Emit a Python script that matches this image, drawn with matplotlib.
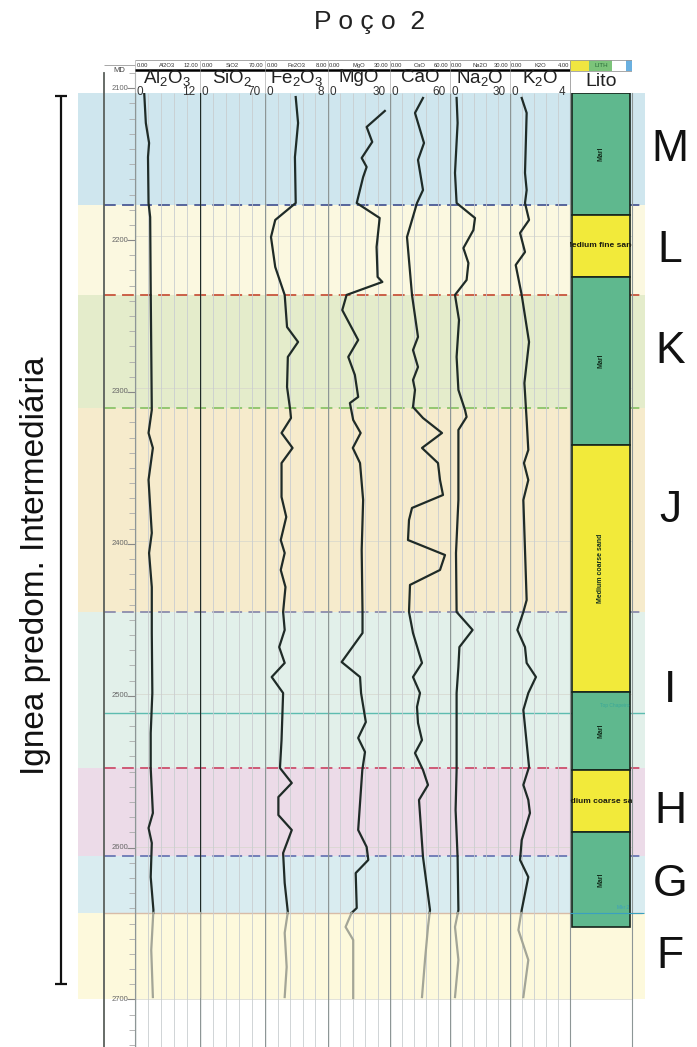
import numpy as np
import matplotlib.pyplot as plt
from matplotlib.patches import Rectangle

plt.rcParams['font.family'] = ['Liberation Sans', 'DejaVu Sans']
plt.rcParams['mathtext.fontset'] = 'custom'
plt.rcParams['mathtext.rm'] = 'Liberation Sans'
plt.rcParams['mathtext.it'] = 'Liberation Sans'

# zones (tops in m MD)
zone_names = ['M', 'L', 'K', 'J', 'I', 'H', 'G', 'F']
zone_tops = [2106.5, 2180.0, 2239.0, 2313.0, 2446.5, 2548.6, 2606.0, 2643.5]
zone_base = 2700.0
zone_colors = ['#cfe6ee', '#fbf8e0', '#e4eccb', '#f6ebcc', '#e2f0ea', '#ecdbe8', '#d9ecf0', '#fdf9dc']
boundary_colors = ['#4b5a95', '#c8553d', '#8cc46a', '#8c8cac', '#cc4f6c', '#6b78b4']
marker_depth = 2512.6
marker_name = 'Top Chapeiro'

# lithology column
lith_tops = [2106.5, 2186.4, 2227.0, 2337.0, 2498.8, 2550.0, 2590.5]
lith_bases = [2186.4, 2227.0, 2337.0, 2498.8, 2550.0, 2590.5, 2652.7]
lith_names = ['Marl', 'Medium fine sand', 'Marl', 'Medium coarse sand', 'Marl',
              'Medium coarse sand', 'Marl']
lith_colors = {'Marl': '#5fb88e', 'Medium fine sand': '#f2ea3a', 'Medium coarse sand': '#f2ea3a'}

# geochemical logs
al2o3_depth = [2106.5, 2126.2, 2139.3, 2148.5, 2178.6, 2187.8, 2235.6, 2314.1, 2329.2, 2339.0,
               2359.9, 2394.7, 2407.8, 2430.1, 2460.2, 2499.5, 2525.7, 2548.6, 2578.1, 2587.9,
               2597.7, 2620.0, 2641.6, 2667.8, 2698.6]
al2o3 = [1.7, 2.0, 2.6, 2.4, 2.5, 2.8, 2.9, 3.1, 2.5, 3.3,
         2.5, 3.1, 2.6, 3.1, 3.1, 3.2, 2.9, 2.9, 3.3, 2.5,
         3.1, 2.9, 3.4, 3.0, 3.3]

sio2_depth = [2106.5, 2300.0, 2500.0, 2698.6]
sio2 = [0.4, 0.4, 0.4, 0.4]

fe2o3_depth = [2109.2, 2126.2, 2148.5, 2178.6, 2189.7, 2200.9, 2220.5, 2238.8, 2259.8, 2269.6,
               2279.4, 2299.1, 2314.1, 2319.4, 2329.2, 2339.0, 2348.9, 2371.1, 2384.2, 2399.3,
               2407.8, 2418.9, 2430.1, 2446.4, 2458.2, 2469.4, 2479.8, 2489.0, 2499.5, 2530.3,
               2548.6, 2558.4, 2567.6, 2579.4, 2589.2, 2604.3, 2623.9, 2642.9, 2656.6, 2678.9,
               2698.6]
fe2o3 = [3.9, 4.2, 3.8, 3.9, 1.3, 0.76, 1.3, 2.5, 2.8, 4.2,
         2.9, 2.8, 3.2, 3.3, 2.1, 3.5, 2.1, 2.1, 2.7, 2.0,
         2.5, 2.0, 2.6, 2.3, 2.5, 1.8, 2.5, 0.85, 2.3, 2.1,
         1.9, 3.4, 1.7, 1.7, 3.4, 2.3, 2.5, 2.9, 2.5, 2.75,
         2.5]

mgo_depth = [2118.3, 2128.8, 2138.6, 2149.1, 2155.0, 2161.6, 2178.6, 2188.4, 2207.4, 2227.0,
             2230.3, 2238.8, 2248.7, 2268.3, 2279.4, 2291.2, 2305.6, 2309.6, 2320.7, 2329.2,
             2339.0, 2348.9, 2373.1, 2405.8, 2446.4, 2460.2, 2479.2, 2489.0, 2499.5, 2518.5,
             2528.9, 2538.1, 2549.9, 2589.2, 2600.3, 2608.8, 2617.4, 2640.3, 2643.5, 2652.7,
             2661.2, 2699.2]
mgo = [27.5, 18.7, 21.4, 16.3, 18.7, 17.0, 13.9, 25.0, 23.5, 24.0,
       26.3, 9.0, 6.9, 14.6, 9.8, 13.0, 14.6, 10.6, 12.2, 15.8,
       12.0, 15.5, 17.0, 16.3, 16.7, 16.7, 6.6, 15.5, 16.0, 18.3,
       14.6, 17.9, 16.6, 14.6, 18.7, 19.5, 13.4, 13.9, 11.4, 8.5,
       12.2, 12.2]

cao_depth = [2109.8, 2119.6, 2139.3, 2150.4, 2170.1, 2178.6, 2200.9, 2238.8, 2266.3, 2274.9,
             2286.0, 2294.5, 2301.0, 2312.2, 2319.4, 2329.2, 2339.0, 2348.9, 2360.0, 2369.8,
             2378.3, 2386.2, 2399.3, 2409.1, 2418.9, 2428.7, 2446.4, 2460.2, 2479.8, 2489.0,
             2499.5, 2508.6, 2519.1, 2530.3, 2538.8, 2549.9, 2559.7, 2569.5, 2606.9, 2641.6,
             2652.7, 2674.3, 2698.6]
cao = [33, 25, 34, 28, 33, 27, 17, 22, 28, 23,
       28, 23, 25, 23, 33, 52, 32, 48, 50, 53,
       22, 19, 18, 55, 50, 20, 19, 23, 32, 23,
       30, 27, 28, 32, 25, 33, 38, 29, 33, 40,
       38, 35, 32]

na2o_depth = [2109.8, 2126.2, 2158.9, 2178.6, 2188.4, 2196.3, 2208.1, 2217.9, 2229.0, 2238.8,
              2255.2, 2279.4, 2301.0, 2314.1, 2318.7, 2327.2, 2373.1, 2407.8, 2446.4, 2458.2,
              2469.4, 2482.4, 2499.5, 2549.9, 2576.1, 2606.9, 2641.6, 2652.7, 2674.3, 2698.6]
na2o = [3.3, 3.8, 2.5, 3.3, 12.5, 11.7, 6.7, 9.2, 8.3, 2.5,
        4.5, 3.3, 4.2, 7.5, 8.3, 4.2, 4.2, 3.0, 3.3, 11.3,
        4.7, 4.2, 3.3, 3.3, 2.8, 3.8, 4.2, 2.5, 4.2, 2.5]

k2o_depth = [2109.8, 2119.6, 2158.9, 2170.1, 2178.6, 2189.7, 2198.2, 2210.7, 2219.2, 2238.8,
             2269.6, 2296.5, 2320.7, 2340.3, 2348.9, 2360.0, 2373.1, 2438.6, 2446.4, 2458.2,
             2469.4, 2479.8, 2489.0, 2499.5, 2510.6, 2547.9, 2559.7, 2569.5, 2578.1, 2595.8,
             2608.8, 2620.0, 2641.6, 2654.7, 2674.3, 2698.6]
k2o = [0.78, 1.11, 1.0, 1.11, 1.0, 1.27, 0.67, 1.0, 0.38, 0.78,
       1.27, 0.96, 1.11, 1.22, 0.93, 1.22, 0.89, 1.11, 0.89, 0.49,
       1.0, 1.11, 1.73, 1.22, 0.89, 1.27, 0.89, 1.22, 1.33, 0.78,
       0.67, 1.22, 0.78, 0.56, 1.22, 0.89]

track_keys = ['Al2O3', 'SiO2', 'Fe2O3', 'MgO', 'CaO', 'Na2O', 'K2O']
track_labels = [r'Al$_2$O$_3$', r'SiO$_2$', r'Fe$_2$O$_3$', 'MgO', 'CaO', r'Na$_2$O', r'K$_2$O']
track_max = [12, 70, 8, 30, 60, 30, 4]
track_data = [(al2o3_depth, al2o3), (sio2_depth, sio2), (fe2o3_depth, fe2o3),
              (mgo_depth, mgo), (cao_depth, cao), (na2o_depth, na2o), (k2o_depth, k2o)]

# page layout (pixels)
W, H = 697, 1047
PX_2100, PX_PER_M = 83.0, 1.527
def px_to_depth(y):
    return 2100 + (y - PX_2100) / PX_PER_M

track_edges = [135, 200, 265, 328, 390, 450, 510, 570]
LITH_X = (570, 632)
Y_HEAD, Y_TOP, Y_BOT = 58, 93, 1047
D_TOP, D_BOT = px_to_depth(Y_TOP), px_to_depth(Y_BOT)

CURVE = '#1f2b27'
GREY = '#a3a597'
GRID = '#c9cdd0'
BORDER = '#8d9696'

fig = plt.figure(figsize=(W / 100, H / 100), dpi=100)

def add_px_axes(x0, y0, x1, y1, **kw):
    return fig.add_axes([x0 / W, 1 - y1 / H, (x1 - x0) / W, (y1 - y0) / H], **kw)

def depth_axes(x0, x1, y0=Y_TOP, **kw):
    ax = add_px_axes(x0, y0, x1, Y_BOT, **kw)
    ax.set_ylim(px_to_depth(Y_BOT), px_to_depth(y0))
    ax.patch.set_alpha(0)
    return ax

# zone backgrounds and tops
bg = depth_axes(78, 645)
bg.set_xlim(78, 645)
bg.axis('off')
bases = zone_tops[1:] + [zone_base]
for top, base, c in zip(zone_tops, bases, zone_colors):
    bg.axhspan(base, top, color=c, lw=0, zorder=0)
for d, c in zip(zone_tops[1:-1], boundary_colors):
    bg.hlines(d, 104, 642, colors=c, lw=1.3, linestyles=(0, (6.5, 3.5)), zorder=3)
bg.hlines(zone_tops[-1], 104, 642, colors='#d8bca8', lw=1.0, zorder=3)
bg.hlines(marker_depth, 104, 645, colors='#5dbcb0', lw=1.0, zorder=3)
for d in range(2200, 2800, 100):
    bg.hlines(d, 135, 632, colors='#d6d6cc', lw=0.5, zorder=1)

# depth column
md = depth_axes(104, 135, y0=73)
md.set_xlim(0, 1)
for s in ['top', 'bottom']:
    md.spines[s].set_visible(False)
md.spines['left'].set_color('#5a605c')
md.spines['left'].set_linewidth(1.3)
md.spines['right'].set_color(BORDER)
md.yaxis.tick_right()
md.set_yticks(np.arange(2100, 2800, 100))
md.set_yticks(np.arange(2090, 2740, 10), minor=True)
md.tick_params(axis='y', which='major', direction='in', length=6, color='#888', labelright=False)
md.tick_params(axis='y', which='minor', direction='in', length=4, color='#aaa')
md.set_xticks([])
for d in range(2100, 2800, 100):
    md.text(0.78, d, str(d), ha='right', va='center', fontsize=5.5, color='#666')
md.text(0.5, px_to_depth(65), 'MD', ha='center', va='center', fontsize=5.5, color='#444')
md.hlines(px_to_depth(60), 0, 1, colors='#999', lw=0.6, clip_on=False)

# chemical tracks
for i, key in enumerate(track_keys):
    x0, x1 = track_edges[i], track_edges[i + 1]
    vmax = track_max[i]
    ax = depth_axes(x0, x1)
    ax.set_xlim(0, vmax)
    ax.axis('off')
    ax.vlines(np.linspace(0, vmax, 6)[1:-1], D_BOT, D_TOP, colors=GRID, lw=0.6, zorder=1)
    ax.vlines([0], D_BOT, D_TOP, colors=BORDER, lw=1.0, zorder=1)
    depth, vals = np.asarray(track_data[i][0]), np.asarray(track_data[i][1], dtype=float)
    cut = zone_tops[-1]
    v_cut = np.interp(cut, depth, vals)
    up = depth < cut
    ax.plot(np.r_[vals[up], v_cut], np.r_[depth[up], cut], color=CURVE, lw=1.6, zorder=5)
    ax.plot(np.r_[v_cut, vals[~up]], np.r_[cut, depth[~up]], color=GREY, lw=1.6, zorder=5)

    # header
    hd = add_px_axes(x0, Y_HEAD, x1, Y_TOP)
    hd.set_xlim(0, 1)
    hd.set_ylim(1, 0)
    hd.axis('off')
    hd.hlines(0.06, 0, 1, colors='#999', lw=0.6)
    hd.vlines(0, 0.06, 1, colors='#bbb', lw=0.6)
    hd.hlines(0.35, 0, 1, colors='black', lw=1.8)
    hd.text(0.02, 0.22, '0.00', fontsize=4.2, ha='left', va='center', color='#333')
    hd.text(0.5, 0.22, key, fontsize=4.2, ha='center', va='center', color='#333')
    hd.text(0.98, 0.22, f'{vmax:.2f}', fontsize=4.2, ha='right', va='center', color='#333')
    hd.text(0.5, 0.56, track_labels[i], fontsize=13.5, ha='center', va='center', color='#222')
    hd.text(0.03, 0.96, '0', fontsize=8.5, ha='left', va='center', color='#333')
    hd.text(0.93, 0.96, str(vmax), fontsize=8.5, ha='right', va='center', color='#333')

# lithology track
lx0, lx1 = LITH_X
la = depth_axes(lx0, lx1)
la.set_xlim(0, 1)
la.set_xticks([])
la.set_yticks([])
for s in ['top', 'bottom']:
    la.spines[s].set_visible(False)
for s in ['left', 'right']:
    la.spines[s].set_color(BORDER)
for top, base, name in zip(lith_tops, lith_bases, lith_names):
    la.add_patch(Rectangle((0.03, top), 0.94, base - top, facecolor=lith_colors[name],
                           edgecolor='#17251c', lw=1.2, zorder=3))
    mid = (top + base) / 2
    if base - top > 45:
        la.text(0.5, mid, name, rotation=90, ha='center', va='center', fontsize=5,
                fontweight='bold', color='#14301e', zorder=4)
    else:
        la.text(0.5, mid, name, ha='center', va='center', fontsize=6,
                fontweight='bold', color='#1a1a10', zorder=4, clip_on=True)
la.text(0.95, marker_depth - 3, marker_name, ha='right', va='bottom', fontsize=3.5,
        color='#3aa898', zorder=4, clip_on=True)
la.hlines(zone_tops[-1], 0.0, 1.2, colors='#3aa0c0', lw=0.8, zorder=4, clip_on=False)
la.text(0.95, zone_tops[-1] - 2, 'Mkr 2', ha='right', va='bottom', fontsize=3.5,
        color='#3aa0c0', zorder=4)

lh = add_px_axes(lx0, Y_HEAD, lx1, Y_TOP)
lh.set_xlim(0, 1)
lh.set_ylim(1, 0)
lh.axis('off')
for xa, xb, c in [(0, 0.3, '#f0e640'), (0.3, 0.68, '#7cc47a'), (0.68, 0.9, 'white'), (0.9, 1.0, '#6ab0e0')]:
    lh.add_patch(Rectangle((xa, 0.05), xb - xa, 0.32, facecolor=c, lw=0))
lh.text(0.5, 0.21, 'LITH', fontsize=4.5, ha='center', va='center', color='#2a6a3a')
lh.hlines(0.05, 0, 1, colors='#999', lw=0.6)
lh.hlines(0.37, 0, 1, colors='#999', lw=0.6)
lh.vlines([0, 1], 0.05, 1, colors='#999', lw=0.6)
lh.text(0.5, 0.68, 'Lito', fontsize=14, ha='center', va='center', color='#222')

# zone letters
za = depth_axes(645, 697)
za.set_xlim(0, 1)
za.axis('off')
for top, base, name in zip(zone_tops, bases, zone_names):
    za.text(0.48, (top + base) / 2, name, ha='center', va='center', fontsize=32, color='#111')

# bracket for the igneous interval
bracket_top, bracket_bot = 2108.5, 2690.0
label_depth = 2416.0
ba = depth_axes(15, 78)
ba.set_xlim(0, 1)
ba.axis('off')
ba.vlines(0.73, bracket_top, bracket_bot, colors='#111', lw=1.6)
ba.hlines([bracket_top, bracket_bot], 0.63, 0.83, colors='#111', lw=1.6)
ba.text(0.32, label_depth, 'Ignea predom. Intermediária', rotation=90,
        ha='center', va='center', fontsize=24, color='#111')

fig.text(370 / W, 1 - 22 / H, 'P o ç o  2', ha='center', va='center', fontsize=19, color='#222')

fig.savefig('out.png', dpi=100)
